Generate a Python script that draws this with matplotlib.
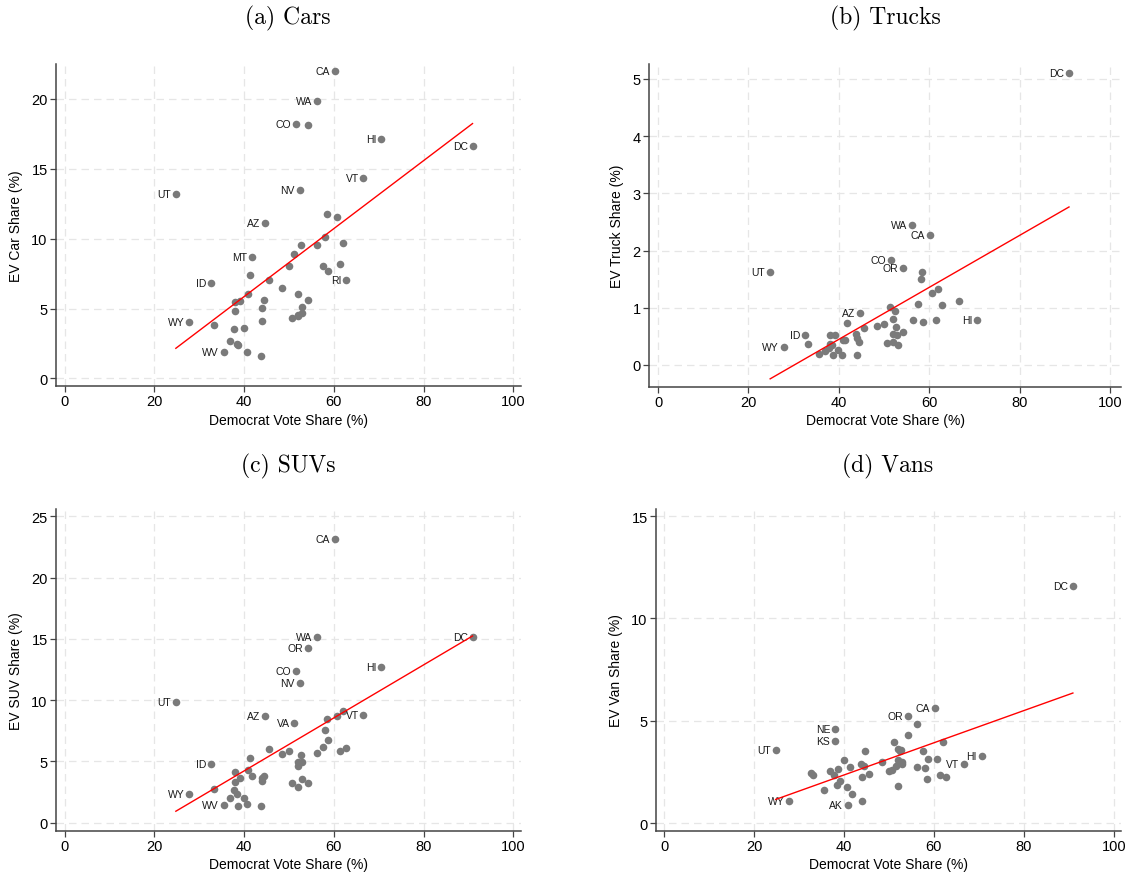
import numpy as np
import matplotlib
matplotlib.use("Agg")
import matplotlib.pyplot as plt

# ---- data ----
states = ["AL","AK","AZ","AR","CA","CO","CT","DE","DC","FL","GA","HI","ID","IL","IN","IA","KS",
          "KY","LA","ME","MD","MA","MI","MN","MS","MO","MT","NE","NV","NH","NJ","NM","NY","NC",
          "ND","OH","OK","OR","PA","RI","SC","SD","TN","TX","UT","VT","VA","WA","WV","WI","WY"]
dem_share = [38.4, 40.8, 44.6, 36.9, 60.2, 51.5, 58.1, 58.6, 90.9, 50.0, 45.5, 70.6, 32.6, 57.6,
             43.9, 52.0, 38.0, 37.8, 40.6, 56.3, 62.0, 60.7, 54.2, 52.7, 43.8, 44.4, 41.7, 38.0,
             52.4, 52.0, 58.4, 53.0, 61.4, 48.4, 38.7, 50.7, 33.2, 54.2, 52.0, 62.7, 44.1, 39.9,
             39.1, 41.4, 24.8, 66.6, 51.2, 56.2, 35.5, 52.8, 27.8]
ev_car = [2.50, 6.03, 11.14, 2.66, 22.0, 18.22, 10.15, 7.72, 16.61, 8.08, 7.04, 17.12, 6.80, 8.05,
          5.07, 6.06, 5.50, 3.56, 1.91, 9.58, 9.68, 11.57, 5.64, 9.56, 1.58, 5.63, 8.67, 4.80,
          13.52, 4.48, 11.78, 4.65, 8.20, 6.46, 2.37, 4.35, 3.80, 18.17, 4.55, 7.07, 4.08, 3.64,
          5.53, 7.40, 13.2, 14.36, 8.91, 19.83, 1.88, 5.09, 4.03]
ev_truck = [0.35, 0.43, 0.90, 0.24, 2.28, 1.84, 1.50, 0.75, 5.11, 0.72, 0.65, 0.79, 0.52, 1.06,
            0.18, 0.81, 0.52, 0.30, 0.17, 0.78, 1.32, 1.25, 0.57, 0.67, 0.55, 0.41, 0.73, 0.36,
            0.95, 0.55, 1.62, 0.35, 0.78, 0.68, 0.175, 0.39, 0.36, 1.70, 0.41, 1.04, 0.47, 0.27,
            0.53, 0.43, 1.63, 1.12, 1.02, 2.44, 0.20, 0.53, 0.315]
ev_suv = [2.35, 4.33, 8.74, 2.05, 23.14, 12.4, 7.60, 6.73, 15.14, 5.88, 6.00, 12.7, 4.75, 6.16,
          3.44, 4.97, 4.17, 2.65, 1.54, 5.67, 9.10, 8.74, 3.22, 5.53, 1.35, 3.80, 3.81, 3.28,
          11.37, 4.60, 8.50, 4.96, 5.83, 5.61, 1.40, 3.22, 2.71, 14.23, 2.95, 6.09, 3.65, 2.05,
          3.68, 5.26, 9.86, 8.77, 8.14, 15.14, 1.48, 3.60, 2.32]
ev_van = [1.85, 0.89, 3.52, 2.56, 5.61, 2.77, 2.69, 3.15, 11.59, 2.56, 2.41, 3.26, 2.43, 3.51,
          1.08, 3.61, 4.02, 2.36, 1.74, 2.74, 3.95, 3.15, 4.28, 3.55, 2.90, 2.80, 1.41, 4.59,
          3.51, 3.07, 2.15, 2.89, 2.36, 2.97, 2.64, 2.61, 2.36, 5.21, 1.79, 2.25, 2.25, 3.10,
          2.07, 2.72, 3.56, 2.89, 3.98, 4.84, 1.61, 3.00, 1.08]

labels_car = ["CA","WA","CO","HI","DC","VT","NV","UT","AZ","MT","ID","RI","WY","WV"]
labels_truck = ["DC","WA","CA","CO","OR","UT","AZ","HI","ID","WY"]
labels_suv = ["CA","WA","OR","DC","HI","CO","NV","UT","AZ","VA","VT","ID","WY","WV"]
labels_van = ["DC","CA","OR","NE","KS","UT","HI","VT","WY","AK"]

titles = ["(a) Cars", "(b) Trucks", "(c) SUVs", "(d) Vans"]
ylabels = ["EV Car Share (%)", "EV Truck Share (%)", "EV SUV Share (%)", "EV Van Share (%)"]
xlabel = "Democrat Vote Share (%)"
yticks_list = [[0, 5, 10, 15, 20], [0, 1, 2, 3, 4, 5], [0, 5, 10, 15, 20, 25], [0, 5, 10, 15]]
xticks = [0, 20, 40, 60, 80, 100]

# ---- layout (pixels) ----
W, H = 1131, 878
fig = plt.figure(figsize=(W / 100, H / 100), dpi=100)
sans = ["Liberation Sans", "DejaVu Sans"]

# left, right, top, bottom (px); xlim; ylim
boxes = [
    (56, 521, 65, 387, (-1.9, 101.7), (-0.54, 22.5)),
    (649, 1121, 65, 388, (-2.0, 102.4), (-0.385, 5.26)),
    (56, 521, 510, 832, (-1.9, 101.7), (-0.68, 25.6)),
    (656, 1121, 510, 832, (-1.8, 101.6), (-0.39, 15.35)),
]
title_pos = [(288, 18), (885, 18), (288, 466), (888, 466)]

series = [ev_car, ev_truck, ev_suv, ev_van]
label_sets = [labels_car, labels_truck, labels_suv, labels_van]

x = np.array(dem_share)
for i in range(4):
    l, r, t, b, xl, yl = boxes[i]
    ax = fig.add_axes([l / W, 1 - b / H, (r - l) / W, (b - t) / H])
    y = np.array(series[i])
    ax.set_xlim(*xl)
    ax.set_ylim(*yl)
    ax.set_xticks(xticks)
    ax.set_yticks(yticks_list[i])
    ax.grid(True, color="#e6e6e6", linestyle=(0, (6, 4)), linewidth=0.9)
    ax.set_axisbelow(True)
    ax.scatter(x, y, s=30, color="#7a7a7a", zorder=3, linewidths=0)
    for st in label_sets[i]:
        k = states.index(st)
        ax.annotate(st, (x[k], y[k]), xytext=(-3.5, 0), textcoords="offset points",
                    ha="right", va="center", fontsize=7.5, family=sans, color="#1a1a1a",
                    zorder=4)
    coef = np.polyfit(x, y, 1)
    xs = np.array([x.min(), x.max()])
    ax.plot(xs, np.polyval(coef, xs), color="red", linewidth=1.0, zorder=4)
    for side in ["top", "right"]:
        ax.spines[side].set_visible(False)
    for side in ["left", "bottom"]:
        ax.spines[side].set_color("#444444")
        ax.spines[side].set_linewidth(1.1)
    ax.tick_params(axis="both", length=4, width=0.9, color="#444444", labelsize=10.5,
                   pad=2)
    for lab in ax.get_xticklabels() + ax.get_yticklabels():
        lab.set_family(sans)
    ax.set_xlabel(xlabel, fontsize=10, family=sans, labelpad=3)
    ax.set_ylabel(ylabels[i], fontsize=10, family=sans, labelpad=6)
    tx, ty = title_pos[i]
    fig.text(tx / W, 1 - ty / H, titles[i], ha="center", va="center", fontsize=17,
             family=["cmr10", "DejaVu Serif"])

fig.savefig("out.png", dpi=100)
